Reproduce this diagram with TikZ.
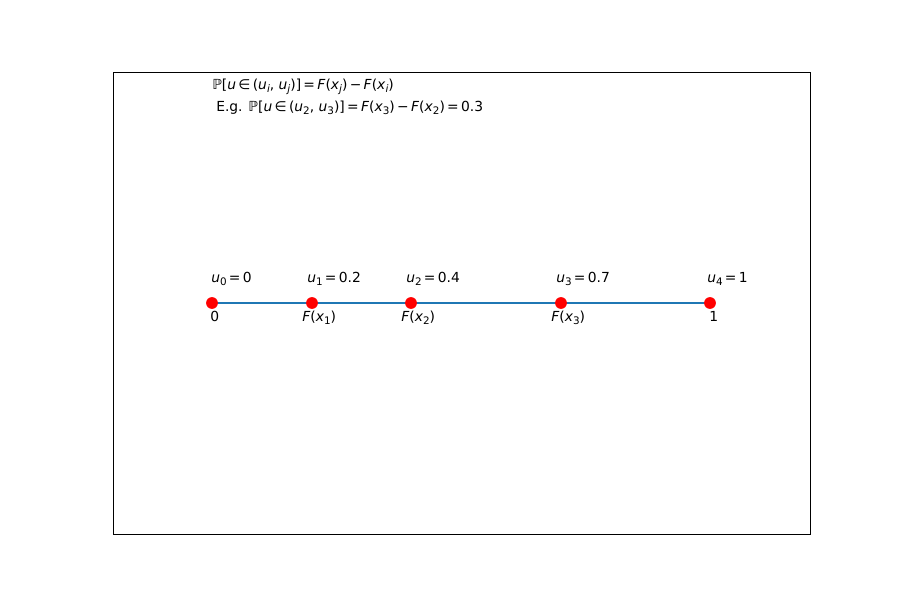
\documentclass[tikz,border=0pt]{standalone}
\usepackage{fontspec}
\setmainfont{DejaVu Sans}
\usepackage{tikz}
\usetikzlibrary{positioning}
\definecolor{segblue}{HTML}{1F77B4}
\definecolor{ptred}{HTML}{FF0000}

% italic letter and lowered subscript, as in the plot's math text
\newcommand{\mvar}[1]{\textit{#1}}
\newcommand{\msub}[1]{\raisebox{-0.2em}{\fontsize{7.5}{8}\selectfont #1}}

\begin{document}
\begin{tikzpicture}[x=0.01in,y=-0.01in]

%--------------------------------------------------
% STYLES
%--------------------------------------------------

\tikzset{
ptdot/.style={
circle,
fill=ptred,
inner sep=0pt,
minimum size=8.5pt
},
lbl/.style={
anchor=base west,
inner sep=0pt,
font=\fontsize{10}{12}\selectfont
}
}

\useasboundingbox (0,0) rectangle (900,600);

%--------------------------------------------------
% FRAME
%--------------------------------------------------

\draw[line width=0.7pt] (113,72) rectangle (810,534);

%--------------------------------------------------
% FORMULA
%--------------------------------------------------

\node[lbl] (rule) at (212,90)
{ℙ[\mvar{u}\,∈\,(\mvar{u}\msub{\mvar{i}}, \mvar{u}\msub{\mvar{j}})]\,=\,\mvar{F}(\mvar{x}\msub{\mvar{j}})\,−\,\mvar{F}(\mvar{x}\msub{\mvar{i}})};

\node[lbl] (example) at (216,112)
{E.g. ℙ[\mvar{u}\,∈\,(\mvar{u}\msub{2}, \mvar{u}\msub{3})]\,=\,\mvar{F}(\mvar{x}\msub{3})\,−\,\mvar{F}(\mvar{x}\msub{2})\,=\,0.3};

%--------------------------------------------------
% UNIT INTERVAL
%--------------------------------------------------

\coordinate (p0) at (212,303);
\coordinate (p1) at (312,303);
\coordinate (p2) at (411,303);
\coordinate (p3) at (561,303);
\coordinate (p4) at (710,303);

\draw[segblue,line width=1.5pt] (p0)--(p4);

\foreach \i in {0,...,4}
{
\node[ptdot] (dot\i) at (p\i) {};
}

%--------------------------------------------------
% LABELS ABOVE
%--------------------------------------------------

\node[lbl] (u0) at (211,283) {\mvar{u}\msub{0}\,=\,0};
\node[lbl] (u1) at (307,283) {\mvar{u}\msub{1}\,=\,0.2};
\node[lbl] (u2) at (406,283) {\mvar{u}\msub{2}\,=\,0.4};
\node[lbl] (u3) at (556,283) {\mvar{u}\msub{3}\,=\,0.7};
\node[lbl] (u4) at (707,283) {\mvar{u}\msub{4}\,=\,1};

%--------------------------------------------------
% LABELS BELOW
%--------------------------------------------------

\node[lbl] (f0) at (210,322) {0};
\node[lbl] (f1) at (302,322) {\mvar{F}(\mvar{x}\msub{1})};
\node[lbl] (f2) at (401,322) {\mvar{F}(\mvar{x}\msub{2})};
\node[lbl] (f3) at (551,322) {\mvar{F}(\mvar{x}\msub{3})};
\node[lbl] (f4) at (709,322) {1};

\end{tikzpicture}
\end{document}
